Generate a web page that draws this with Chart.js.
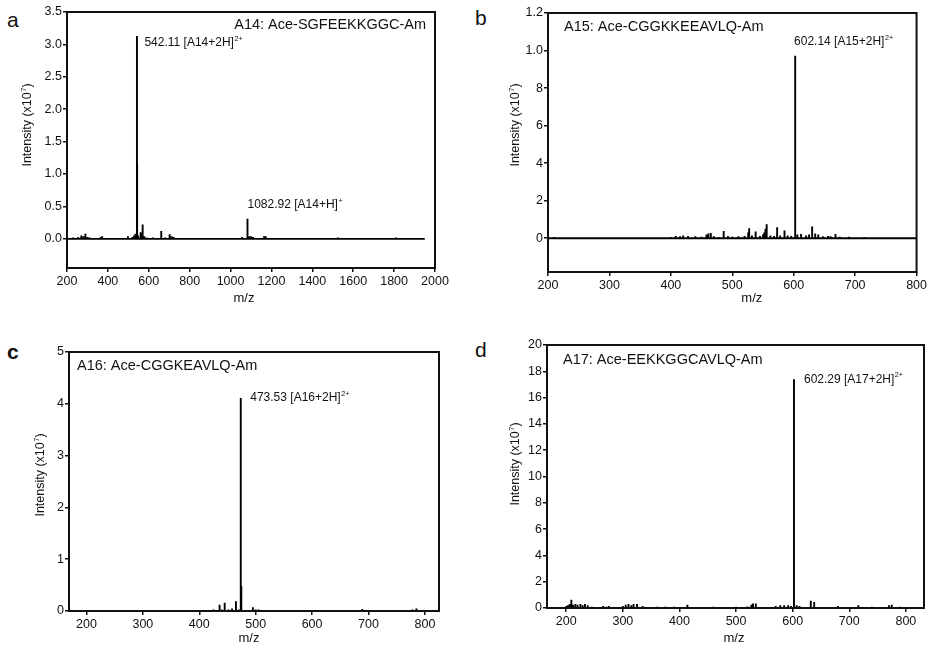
<!DOCTYPE html>
<html><head><meta charset="utf-8">
<script src="https://cdn.jsdelivr.net/npm/chart.js@4.4.1/dist/chart.umd.min.js"></script>
<style>
html,body{margin:0;padding:0;background:#fff}
body{width:929px;height:649px;overflow:hidden;position:relative;font-family:"Liberation Sans",Arial,sans-serif}
canvas{position:absolute}
.lab{position:absolute;font-size:21px;line-height:21px;color:#111}
</style></head><body>
<div class="lab" style="left:7px;top:9px">a</div>
<div class="lab" style="left:475px;top:7px">b</div>
<div class="lab" style="left:7px;top:341px;font-weight:bold">c</div>
<div class="lab" style="left:475px;top:339px">d</div>
<canvas id="ca" width="465" height="310" style="left:0;top:0"></canvas>
<canvas id="cb" width="459" height="310" style="left:470px;top:0"></canvas>
<canvas id="cc" width="465" height="339" style="left:0;top:310px"></canvas>
<canvas id="cd" width="459" height="339" style="left:470px;top:310px"></canvas>
<script>
// ---------- DATA ----------
// Panel a
const a_title = "A14: Ace-SGFEEKKGGC-Am";
const a_range = [200, 1950];
const a_peakX = [230,255,270,280,290,300,310,330,365,372,400,445,498,520,528,535,542.11,543,548,560,565,570,578,590,620,661,680,702,712,722,760,880,960,1056,1081,1084,1090,1100,1110,1164,1172,1200,1260,1345,1400,1525,1570,1660,1810];
const a_peakY = [0.02,0.03,0.05,0.04,0.08,0.03,0.02,0.01,0.03,0.04,0.01,0.01,0.04,0.03,0.05,0.08,3.13,1.15,0.05,0.1,0.08,0.22,0.04,0.02,0.02,0.12,0.02,0.07,0.04,0.03,0.01,0.01,0.01,0.03,0.31,0.12,0.04,0.04,0.03,0.04,0.04,0.01,0.01,0.01,0.01,0.02,0.01,0.01,0.02];
const a_xTicks = [200,400,600,800,1000,1200,1400,1600,1800,2000];
const a_yTicks = [0,0.5,1.0,1.5,2.0,2.5,3.0,3.5];
const a_yTickLabels = ["0.0","0.5","1.0","1.5","2.0","2.5","3.0","3.5"];
const a_annotX = [542.11, 1082.92];
const a_annotY = [3.13, 0.31];
const a_annotText = ["542.11 [A14+2H]", "1082.92 [A14+H]"];
const a_annotSup = ["2+", "+"];

// Panel b
const b_title = "A15: Ace-CGGKKEEAVLQ-Am";
const b_range = [200, 800];
const b_peakX = [205,210,215,230,260,300,340,370,385,400,408,415,420,428,440,450,458,461,465,470,478,486,493,500,510,520,526,527.5,532,538,545,550,552,554,556,562,568,573,578,585,590,596,602.14,602.6,606,612,620,625,630,635,640,648,656,660,668,675,690,700,715,730,760,785,790];
const b_peakY = [0.05,0.07,0.03,0.03,0.02,0.02,0.02,0.04,0.04,0.06,0.12,0.1,0.15,0.12,0.1,0.08,0.2,0.25,0.28,0.1,0.06,0.39,0.12,0.08,0.1,0.12,0.3,0.53,0.15,0.36,0.12,0.2,0.3,0.5,0.75,0.15,0.12,0.59,0.15,0.41,0.15,0.12,9.72,5.8,0.2,0.22,0.15,0.2,0.62,0.25,0.2,0.1,0.12,0.1,0.22,0.08,0.08,0.05,0.06,0.04,0.05,0.05,0.04];
const b_xTicks = [200,300,400,500,600,700,800];
const b_yTicks = [0,2,4,6,8,10,12];
const b_yTickLabels = ["0","2","4","6","8","1.0","1.2"];
const b_annotX = [602.14];
const b_annotY = [9.72];
const b_annotText = ["602.14 [A15+2H]"];
const b_annotSup = ["2+"];

// Panel c
const c_title = "A16: Ace-CGGKEAVLQ-Am";
const c_range = [175, 820];
const c_peakX = [250,300,330,360,400,415,425,436,440,445,452,458,465,470,473.53,474.5,480,495,500,505,510,550,600,650,689,740,778,785,790];
const c_peakY = [0.01,0.01,0.01,0.01,0.02,0.02,0.03,0.12,0.03,0.16,0.03,0.05,0.19,0.03,4.11,0.48,0.02,0.07,0.03,0.03,0.02,0.01,0.01,0.01,0.04,0.01,0.03,0.05,0.02];
const c_xTicks = [200,300,400,500,600,700,800];
const c_yTicks = [0,1,2,3,4,5];
const c_yTickLabels = ["0","1","2","3","4","5"];
const c_annotX = [473.53];
const c_annotY = [4.11];
const c_annotText = ["473.53 [A16+2H]"];
const c_annotSup = ["2+"];

// Panel d
const d_title = "A17: Ace-EEKKGGCAVLQ-Am";
const d_range = [195, 820];
const d_peakX = [200,203,206,209,212,216,220,225,229,233,238,245,255,265,270,275,285,300,305,310,315,319,325,335,345,360,375,390,400,414,440,460,480,500,520,527,530,535,560,570,578,585,592,597,602.29,607,612,632,638,650,680,700,716,740,770,775,790];
const d_peakY = [0.15,0.2,0.3,0.63,0.25,0.3,0.25,0.3,0.2,0.3,0.2,0.1,0.08,0.15,0.1,0.15,0.08,0.15,0.25,0.3,0.2,0.3,0.3,0.15,0.08,0.1,0.1,0.1,0.08,0.25,0.08,0.1,0.05,0.1,0.12,0.25,0.35,0.35,0.08,0.15,0.2,0.2,0.2,0.15,17.39,0.2,0.15,0.56,0.45,0.08,0.15,0.05,0.2,0.1,0.2,0.25,0.1];
const d_xTicks = [200,300,400,500,600,700,800];
const d_yTicks = [0,2,4,6,8,10,12,14,16,18,20];
const d_yTickLabels = ["0","2","4","6","8","10","12","14","16","18","20"];
const d_annotX = [602.29];
const d_annotY = [17.39];
const d_annotText = ["602.29 [A17+2H]"];
const d_annotSup = ["2+"];

const yTitleText = "Intensity (x10";
const yTitleSup = "7";
const yTitleEnd = ")";
const xTitleText = "m/z";

// ---------- RENDERING ----------
const FONT = '"Liberation Sans", Arial, sans-serif';
const INK = '#111';

function stickData(range, xs, ys) {
  const pts = [{x: range[0], y: 0}];
  xs.forEach((x, i) => { pts.push({x, y: 0}, {x, y: ys[i]}, {x, y: 0}); });
  pts.push({x: range[1], y: 0});
  return pts;
}

// draws text + superscript (+ optional tail), aligned left or centered at (x,y)
function drawSup(ctx, text, sup, tail, x, y, size, align) {
  const ss = size * 0.6;
  ctx.font = size + 'px ' + FONT;
  const w1 = ctx.measureText(text).width;
  const w3 = tail ? ctx.measureText(tail).width : 0;
  ctx.font = ss + 'px ' + FONT;
  const w2 = ctx.measureText(sup).width;
  let sx = x;
  if (align === 'center') sx = x - (w1 + w2 + 0.5 + w3) / 2;
  ctx.textAlign = 'left';
  ctx.textBaseline = 'middle';
  ctx.font = size + 'px ' + FONT;
  ctx.fillText(text, sx, y);
  if (tail) ctx.fillText(tail, sx + w1 + w2 + 0.5, y);
  ctx.font = ss + 'px ' + FONT;
  ctx.fillText(sup, sx + w1 + 0.5, y - size * 0.33);
}

function makeChart(id, P) {
  const cv = document.getElementById(id);
  const W = cv.width, H = cv.height;
  const plugin = {
    id: 'deco_' + id,
    afterDraw(chart) {
      const ctx = chart.ctx, ca = chart.chartArea;
      const xs = chart.scales.x, ys = chart.scales.y;
      ctx.save();
      ctx.strokeStyle = INK; ctx.lineWidth = 2;
      ctx.strokeRect(ca.left, ca.top, ca.right - ca.left, ca.bottom - ca.top);
      ctx.fillStyle = INK;
      ctx.font = P.titleSize + 'px ' + FONT;
      ctx.textBaseline = 'middle';
      if (P.titleAlign === 'right') { ctx.textAlign = 'right'; ctx.fillText(P.title, ca.right - P.titleDx, ca.top + P.titleDy); }
      else { ctx.textAlign = 'left'; ctx.fillText(P.title, ca.left + P.titleDx, ca.top + P.titleDy); }
      P.annotX.forEach((v, i) => {
        const px = xs.getPixelForValue(v) + P.annotDx[i];
        const py = ys.getPixelForValue(P.annotY[i]) + P.annotDy[i];
        drawSup(ctx, P.annotText[i], P.annotSup[i], '', px, py, 12, 'left');
      });
      ctx.font = '13px ' + FONT; ctx.textAlign = 'center'; ctx.textBaseline = 'middle';
      ctx.fillText(xTitleText, (ca.left + ca.right) / 2 + P.xTitleDx, ca.bottom + P.xTitleDy);
      ctx.translate(ca.left - P.yTitleDx, ca.top + P.yTitleDy);
      ctx.rotate(-Math.PI / 2);
      drawSup(ctx, yTitleText, yTitleSup, yTitleEnd, 0, 0, 12.5, 'center');
      ctx.restore();
    }
  };
  return new Chart(cv, {
    type: 'line',
    data: { datasets: [{
      data: stickData(P.range, P.peakX, P.peakY),
      borderColor: '#000', borderWidth: 1.9, pointRadius: 0, tension: 0, fill: false
    }]},
    options: {
      responsive: false, animation: false, devicePixelRatio: 1,
      plugins: { legend: {display: false}, tooltip: {enabled: false} },
      layout: { padding: { left: 0, top: P.plot.t - P.cv.y, right: (P.cv.x + W) - P.plot.r, bottom: 0 } },
      scales: {
        x: {
          type: 'linear', min: P.xMin, max: P.xMax,
          afterFit: s => { s.height = (P.cv.y + H) - P.plot.b; },
          afterBuildTicks: s => { s.ticks = P.xTicks.map(v => ({value: v})); },
          border: { display: false },
          grid: { display: true, drawOnChartArea: false, drawTicks: true, tickLength: 4, color: INK, lineWidth: 1.5 },
          ticks: { color: INK, font: { family: FONT, size: 12.5 }, padding: 2, maxRotation: 0, autoSkip: false, callback: v => String(v) }
        },
        y: {
          type: 'linear', min: P.yMin, max: P.yMax,
          afterFit: s => { s.width = P.plot.l - P.cv.x; },
          afterBuildTicks: s => { s.ticks = P.yTicks.map(v => ({value: v})); },
          border: { display: false },
          grid: { display: true, drawOnChartArea: false, drawTicks: true, tickLength: 4, color: INK, lineWidth: 1.5 },
          ticks: { color: INK, font: { family: FONT, size: 12.5 }, padding: 1, autoSkip: false,
            callback: (v) => { const i = P.yTicks.indexOf(v); return i >= 0 ? P.yTickLabels[i] : ''; } }
        }
      }
    },
    plugins: [plugin]
  });
}

makeChart('ca', {
  cv: {x: 0, y: 0}, plot: {l: 67, t: 12, r: 435, b: 268},
  xMin: 200, xMax: 2000, yMin: -0.45, yMax: 3.5,
  range: a_range, peakX: a_peakX, peakY: a_peakY, xTicks: a_xTicks, yTicks: a_yTicks, yTickLabels: a_yTickLabels,
  title: a_title, titleAlign: 'right', titleDx: 9, titleDy: 13, titleSize: 14.5,
  annotX: a_annotX, annotY: a_annotY, annotText: a_annotText, annotSup: a_annotSup, annotDx: [7.5, 0], annotDy: [7, -14],
  xTitleDx: -7, xTitleDy: 30, yTitleDx: 39, yTitleDy: 113
});
makeChart('cb', {
  cv: {x: 470, y: 0}, plot: {l: 548, t: 13, r: 917, b: 272},
  xMin: 200, xMax: 800, yMin: -1.8, yMax: 12,
  range: b_range, peakX: b_peakX, peakY: b_peakY, xTicks: b_xTicks, yTicks: b_yTicks, yTickLabels: b_yTickLabels,
  title: b_title, titleAlign: 'left', titleDx: 16, titleDy: 13.5, titleSize: 14.5,
  annotX: b_annotX, annotY: b_annotY, annotText: b_annotText, annotSup: b_annotSup, annotDx: [-1], annotDy: [-14],
  xTitleDx: 19.5, xTitleDy: 26, yTitleDx: 32, yTitleDy: 112
});
makeChart('cc', {
  cv: {x: 0, y: 310}, plot: {l: 69, t: 352, r: 439, b: 611},
  xMin: 169, xMax: 825, yMin: 0, yMax: 5,
  range: c_range, peakX: c_peakX, peakY: c_peakY, xTicks: c_xTicks, yTicks: c_yTicks, yTickLabels: c_yTickLabels,
  title: c_title, titleAlign: 'left', titleDx: 8, titleDy: 14, titleSize: 14.5,
  annotX: c_annotX, annotY: c_annotY, annotText: c_annotText, annotSup: c_annotSup, annotDx: [9.5], annotDy: [0],
  xTitleDx: -5, xTitleDy: 27, yTitleDx: 28, yTitleDy: 123
});
makeChart('cd', {
  cv: {x: 470, y: 310}, plot: {l: 547, t: 345, r: 924, b: 608},
  xMin: 166, xMax: 832, yMin: 0, yMax: 20,
  range: d_range, peakX: d_peakX, peakY: d_peakY, xTicks: d_xTicks, yTicks: d_yTicks, yTickLabels: d_yTickLabels,
  title: d_title, titleAlign: 'left', titleDx: 16, titleDy: 15, titleSize: 14.5,
  annotX: d_annotX, annotY: d_annotY, annotText: d_annotText, annotSup: d_annotSup, annotDx: [10], annotDy: [0],
  xTitleDx: -1.5, xTitleDy: 30, yTitleDx: 31, yTitleDy: 119
});
</script>
</body></html>
